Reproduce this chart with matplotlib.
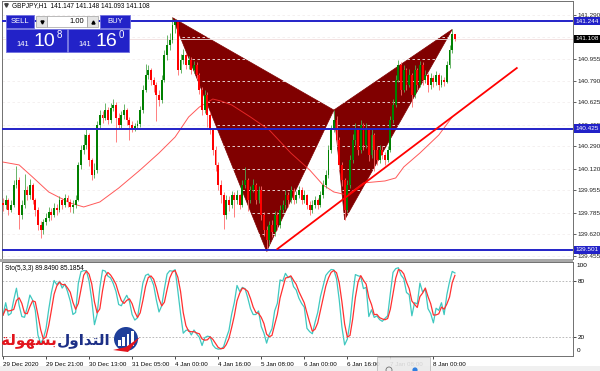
"""GBPJPY H1 chart with harmonic pattern, levels and stochastic (MT4 style)."""

import numpy as np
import pandas as pd
import matplotlib
matplotlib.use("Agg")
import matplotlib.pyplot as plt
from matplotlib.patches import Rectangle, Circle, Polygon
from matplotlib.transforms import blended_transform_factory

plt.rcParams['font.family'] = ['Liberation Sans', 'DejaVu Sans']

# ---- data ----
first_open = 139.860
closes = [
    139.843, 139.881, 139.805, 139.843, 139.995, 140.033, 139.767, 139.843, 139.957, 139.919,
    139.995, 139.881, 139.805, 139.691, 139.652, 139.713, 139.744, 139.790, 139.767, 139.820,
    139.805, 139.881, 139.843, 139.896, 139.866, 139.828, 139.843, 139.881, 140.148, 140.262,
    140.300, 140.376, 140.186, 140.071, 140.110, 140.452, 140.528, 140.506, 140.566, 140.490,
    140.582, 140.605, 140.506, 140.452, 140.528, 140.566, 140.490, 140.452, 140.429, 140.445,
    140.460, 140.566, 140.719, 140.833, 140.871, 140.795, 140.757, 140.681, 140.643, 140.795,
    140.985, 141.062, 141.100, 141.214, 141.237, 140.871, 140.947, 140.985, 140.909, 140.947,
    140.871, 140.909, 140.833, 140.719, 140.566, 140.681, 140.528, 140.414, 140.262, 140.148,
    139.995, 139.919, 139.767, 139.881, 139.843, 139.919, 139.881, 139.919, 139.843, 139.995,
    140.033, 139.881, 139.957, 139.995, 139.881, 139.957, 139.767, 139.652, 139.576, 139.691,
    139.637, 139.767, 139.691, 139.805, 139.843, 139.919, 139.881, 139.957, 139.881, 139.919,
    139.957, 139.881, 139.919, 139.843, 139.805, 139.843, 139.881, 139.843, 139.919, 139.995,
    140.071, 140.262, 140.414, 140.490, 140.338, 140.148, 140.033, 139.805, 139.995, 140.186,
    140.338, 140.414, 140.262, 140.452, 140.300, 140.414, 140.224, 140.376, 140.262, 140.186,
    140.262, 140.224, 140.186, 140.262, 140.490, 140.605, 140.795, 140.909, 140.719, 140.871,
    140.757, 140.833, 140.681, 140.871, 140.757, 140.909, 140.795, 140.833, 140.757, 140.810,
    140.780, 140.833, 140.757, 140.795, 140.780, 140.909, 141.023, 141.147, 141.108,
]
highs = [
    139.900, 139.920, 139.900, 139.880, 140.030, 140.140, 140.060, 139.880, 140.080, 139.990,
    140.040, 140.010, 139.900, 139.830, 139.720, 139.740, 139.780, 139.830, 139.820, 139.860,
    139.850, 139.910, 139.900, 139.930, 139.920, 139.890, 139.880, 139.920, 140.170, 140.300,
    140.380, 140.420, 140.390, 140.200, 140.160, 140.480, 140.570, 140.560, 140.620, 140.590,
    140.620, 140.650, 140.630, 140.540, 140.560, 140.610, 140.580, 140.510, 140.480, 140.470,
    140.490, 140.600, 140.760, 140.920, 140.910, 140.890, 140.820, 140.780, 140.720, 140.830,
    141.020, 141.140, 141.150, 141.270, 141.260, 141.250, 140.990, 141.030, 141.000, 140.980,
    140.970, 140.940, 140.930, 140.850, 140.740, 140.720, 140.700, 140.550, 140.430, 140.290,
    140.170, 140.030, 139.940, 139.920, 139.910, 139.950, 139.940, 139.960, 139.930, 140.030,
    140.130, 140.050, 139.990, 140.040, 140.010, 139.990, 139.990, 139.790, 139.680, 139.720,
    139.730, 139.800, 139.790, 139.840, 139.880, 139.960, 139.940, 139.990, 139.970, 139.950,
    139.990, 139.980, 139.960, 139.930, 139.870, 139.880, 139.910, 139.900, 139.950, 140.030,
    140.110, 140.300, 140.450, 140.566, 140.520, 140.360, 140.170, 140.050, 140.030, 140.220,
    140.380, 140.470, 140.430, 140.490, 140.470, 140.470, 140.430, 140.420, 140.390, 140.290,
    140.300, 140.290, 140.250, 140.290, 140.520, 140.650, 140.830, 140.950, 140.930, 140.910,
    140.890, 140.880, 140.850, 140.910, 140.890, 140.940, 140.930, 140.870, 140.850, 140.850,
    140.830, 140.860, 140.850, 140.830, 140.820, 140.940, 141.060, 141.180, 141.148,
]
lows = [
    139.800, 139.810, 139.770, 139.790, 139.830, 139.970, 139.660, 139.740, 139.820, 139.880,
    139.890, 139.850, 139.760, 139.650, 139.590, 139.620, 139.690, 139.720, 139.730, 139.750,
    139.770, 139.790, 139.810, 139.830, 139.830, 139.790, 139.780, 139.820, 139.870, 140.120,
    140.230, 140.270, 140.140, 140.030, 140.050, 140.090, 140.420, 140.470, 140.490, 140.460,
    140.470, 140.560, 140.320, 140.420, 140.430, 140.500, 140.450, 140.340, 140.400, 140.410,
    140.420, 140.440, 140.540, 140.700, 140.800, 140.760, 140.700, 140.480, 140.600, 140.620,
    140.780, 140.950, 141.020, 141.080, 141.150, 140.830, 140.850, 140.920, 140.880, 140.880,
    140.840, 140.850, 140.800, 140.690, 140.530, 140.540, 140.440, 140.380, 140.220, 140.100,
    139.960, 139.860, 139.660, 139.740, 139.800, 139.820, 139.750, 139.850, 139.810, 139.830,
    139.970, 139.800, 139.860, 139.940, 139.850, 139.860, 139.730, 139.610, 139.490, 139.540,
    139.600, 139.610, 139.650, 139.670, 139.780, 139.810, 139.830, 139.860, 139.850, 139.860,
    139.900, 139.850, 139.860, 139.810, 139.770, 139.780, 139.820, 139.810, 139.830, 139.900,
    139.970, 140.050, 140.240, 140.400, 140.300, 140.110, 139.990, 139.730, 139.790, 139.970,
    140.160, 140.300, 140.220, 140.240, 140.260, 140.280, 140.180, 140.200, 140.100, 140.150,
    140.160, 140.190, 140.150, 140.170, 140.250, 140.470, 140.590, 140.780, 140.680, 140.700,
    140.720, 140.740, 140.590, 140.660, 140.720, 140.740, 140.760, 140.770, 140.700, 140.730,
    140.740, 140.760, 140.720, 140.740, 140.750, 140.770, 140.890, 141.000, 141.093,
]

# moving average (bar index, value)
ma_bars = [0, 6, 11, 17, 25, 30, 36, 43, 51, 58, 64, 69, 73, 78, 81, 85, 92, 99, 107,
           114, 119, 123, 128, 134, 142, 146, 149, 155, 162, 167]
ma_vals = [140.170, 140.148, 140.056, 139.942, 139.858, 139.828, 139.866, 139.972, 140.110,
           140.239, 140.361, 140.513, 140.589, 140.650, 140.635, 140.605, 140.513, 140.414,
           140.239, 140.110, 139.995, 139.942, 139.919, 140.011, 140.026, 140.049, 140.133,
           140.239, 140.376, 140.513]

# harmonic pattern X-A-B-C-D
pattern_bars = [63, 98, 123, 127, 167]
pattern_prices = [141.270, 139.490, 140.566, 139.730, 141.180]

levels = [141.244, 140.425, 139.501]
trend_bars = [102, 191]
trend_prices = [139.508, 140.886]
bid = 141.108

grid_levels = [141.290, 141.120, 140.955, 140.790, 140.625, 140.455,
               140.290, 140.120, 139.955, 139.785, 139.620, 139.455]
# 141.120 sits under the bid label in the original, so it gets no text
price_ticks = [141.290, 140.955, 140.790, 140.625, 140.455,
               140.290, 140.120, 139.955, 139.785, 139.620, 139.455]
time_labels = ["29 Dec 2020", "29 Dec 21:00", "30 Dec 13:00", "31 Dec 05:00",
               "4 Jan 00:00", "4 Jan 16:00", "5 Jan 08:00", "6 Jan 00:00",
               "6 Jan 16:00", "7 Jan 08:00", "8 Jan 00:00"]
time_bars = [0, 16, 32, 48, 64, 80, 96, 112, 128, 144, 160]

W, H = 600, 371
BLUE = '#2222c8'

fig = plt.figure(figsize=(6, 3.71), dpi=100)
fig.patch.set_facecolor('white')


def frac(x0, y0, x1, y1):
    return [x0 / W, 1 - y1 / H, (x1 - x0) / W, (y1 - y0) / H]


ax = fig.add_axes(frac(2, 1, 573, 259))
ax2 = fig.add_axes(frac(2, 262, 573, 356))
xlim = (-0.37, 211.9)

# ---- main chart ----
n = len(closes)
x = np.arange(n)
c = np.array(closes)
o = np.array([first_open] + closes[:-1])
up = c >= o

tri1 = Polygon(list(zip(pattern_bars[:3], pattern_prices[:3])), closed=True,
               fc='#800000', ec='#800000', lw=0.5, zorder=1)
tri2 = Polygon(list(zip(pattern_bars[2:], pattern_prices[2:])), closed=True,
               fc='#800000', ec='#800000', lw=0.5, zorder=1)
ax.add_patch(tri1)
ax.add_patch(tri2)

for p in grid_levels:
    ax.axhline(p, color='#f2eeee', lw=0.6, ls=(0, (3, 3)), zorder=2)
ax.axhline(bid, color='#f0dcdc', lw=0.6, zorder=2)

ax.plot(ma_bars, ma_vals, color='#ff3030', lw=0.7, alpha=0.8, zorder=3)

ax.vlines(x, lows, highs, colors=np.where(up, '#4fa84f', '#ff6a6a'), lw=0.6, zorder=4)
body = np.where(np.abs(c - o) < 0.004, 0.004, c - o)
ax.bar(x, body, bottom=o, width=0.7, color=np.where(up, '#008000', '#ff0000'),
       lw=0, zorder=5)

for lv in levels:
    ax.axhline(lv, color=BLUE, lw=1.4, zorder=6)
ax.plot(trend_bars, trend_prices, color='#ff0000', lw=1.3, zorder=7)

ax.set_xlim(*xlim)
ax.set_ylim(139.4317, 141.3966)
ax.set_xticks([])
ax.yaxis.tick_right()
ax.set_yticks(price_ticks)
ax.set_yticklabels([f"{p:.3f}" for p in price_ticks])
ax.tick_params(axis='y', labelsize=4.6, length=2, width=0.5, pad=1.5, colors='#222222')
for s in ax.spines.values():
    s.set_color('#707070')
    s.set_linewidth(0.7)

tr = blended_transform_factory(ax.transAxes, ax.transData)
for lv in levels:
    ax.text(1.004, lv, f"{lv:.3f}", transform=tr, fontsize=4.6, color='white',
            va='center', ha='left', zorder=20, clip_on=False,
            bbox=dict(boxstyle='square,pad=0.25', fc=BLUE, ec='none'))
ax.text(1.004, bid, f"{bid:.3f}", transform=tr, fontsize=4.6, color='white',
        va='center', ha='left', zorder=20, clip_on=False,
        bbox=dict(boxstyle='square,pad=0.25', fc='black', ec='none'))

# ---- stochastic (5,3,3) ----
df = pd.DataFrame({'h': highs, 'l': lows, 'c': closes})
hh = df.h.rolling(5, min_periods=1).max()
ll = df.l.rolling(5, min_periods=1).min()
k = 100 * (df.c - ll).rolling(3, min_periods=1).sum() / (hh - ll).rolling(3, min_periods=1).sum()
d = k.rolling(3, min_periods=1).mean()

ax2.axhline(80, color='#b0b0b0', lw=0.6, ls=(0, (2, 2)))
ax2.axhline(20, color='#b0b0b0', lw=0.6, ls=(0, (2, 2)))
ax2.plot(x, k, color='#40c8c0', lw=0.9)
ax2.plot(x, d, color='#ff3030', lw=0.9)
ax2.set_xlim(*xlim)
ax2.set_ylim(-0.7, 100.0)
ax2.yaxis.tick_right()
ax2.set_yticks([80, 20])
ax2.tick_params(axis='y', labelsize=4.6, length=2, width=0.5, pad=1.5)
tr2 = blended_transform_factory(ax2.transAxes, ax2.transData)
ax2.text(1.006, 96, "100", transform=tr2, fontsize=4.6, va='center', ha='left')
ax2.text(1.006, 5, "0", transform=tr2, fontsize=4.6, va='center', ha='left')
ax2.set_xticks(time_bars)
ax2.set_xticklabels(time_labels)
plt.setp(ax2.get_xticklabels(), ha='left')
ax2.tick_params(axis='x', labelsize=4.5, length=2.5, width=0.5, pad=1.5)
for s in ax2.spines.values():
    s.set_color('#707070')
    s.set_linewidth(0.7)
ax2.text(0.005, 0.965, "Sto(5,3,3) 89.8490 85.1854", transform=ax2.transAxes,
         fontsize=4.7, va='top', ha='left')

# ---- overlay in pixel coords: header, trading panel, logo ----
ov = fig.add_axes([0, 0, 1, 1], zorder=10)
ov.set_xlim(0, W)
ov.set_ylim(H, 0)
ov.axis('off')
ov.patch.set_alpha(0)

ov.add_patch(Rectangle((0, 258.5), 573, 3.5, fc='#a8a8a8', ec='none'))
ov.add_patch(Rectangle((0, 366), W, 5, fc='#f0f0f0', ec='none'))

ov.plot([5.5], [5], marker='v', ms=2.5, color='#404040')
ov.text(12, 5.5, "GBPJPY,H1  141.147 141.148 141.093 141.108", fontsize=4.7,
        va='center', ha='left')

ov.add_patch(Rectangle((6, 15), 28, 13, fc=BLUE, ec='#7070e0', lw=0.6))
ov.text(20, 21.5, "SELL", color='white', fontsize=5.5, ha='center', va='center')
ov.add_patch(Rectangle((36, 16), 11, 11, fc='#e4e4e4', ec='#a0a0a0', lw=0.5))
ov.plot([41.5], [21.5], marker='v', ms=2.2, color='black')
ov.add_patch(Rectangle((47, 16), 40, 11, fc='white', ec='#a0a0a0', lw=0.5))
ov.text(84, 21.5, "1.00", fontsize=5.5, ha='right', va='center')
ov.add_patch(Rectangle((87, 16), 11, 11, fc='#e4e4e4', ec='#a0a0a0', lw=0.5))
ov.plot([92.5], [21.5], marker='^', ms=2.2, color='black')
ov.add_patch(Rectangle((100, 15), 30, 13, fc=BLUE, ec='#7070e0', lw=0.6))
ov.text(115, 21.5, "BUY", color='white', fontsize=5.5, ha='center', va='center')

for bx, big, sup in [(6, "10", "8"), (68, "16", "0")]:
    ov.add_patch(Rectangle((bx, 29), 61, 23, fc=BLUE, ec='#7070e0', lw=0.6))
    ov.text(bx + 17, 45, "141", color='white', fontsize=5.5, ha='center', va='center')
    ov.text(bx + 38, 42, big, color='white', fontsize=14, ha='center', va='center')
    ov.text(bx + 53, 35.5, sup, color='white', fontsize=7, ha='center', va='center')

arabic = ['DejaVu Sans']
ov.text(1, 340, "\uFE94\uFEDF\uFEEE\uFEEC\uFEB4\uFE91", family=arabic, fontweight='bold',
        fontsize=11, color='#e2141c', ha='left', va='center')
ov.text(111, 340, "\uFEDD\uFEED\uFE8D\uFEAA\uFE98\uFEDF\uFE8D", family=arabic, fontweight='bold',
        fontsize=11, color='#1c2f86', ha='right', va='center')
ov.add_patch(Circle((126, 339), 12, fc='#1e3f9a', ec='none'))
for i, hgt in enumerate([6, 9, 12, 15]):
    ov.add_patch(Rectangle((118 + i * 4.3, 346 - hgt), 2.8, hgt, fc='white', ec='none'))
ov.add_patch(Polygon([(113, 350), (126, 347), (140, 337), (128, 352)], closed=True,
                     fc='#e2141c', ec='none'))

ov.add_patch(Rectangle((377, 357), 53, 14, fc='#ebebeb', ec='#b8b8b8', lw=0.6, alpha=0.9))
ov.add_patch(Circle((389, 370), 3, fc='none', ec='#707070', lw=0.6))
ov.add_patch(Circle((415, 370), 2.6, fc='#2f7fe0', ec='none'))

fig.savefig("out.png", dpi=100)
